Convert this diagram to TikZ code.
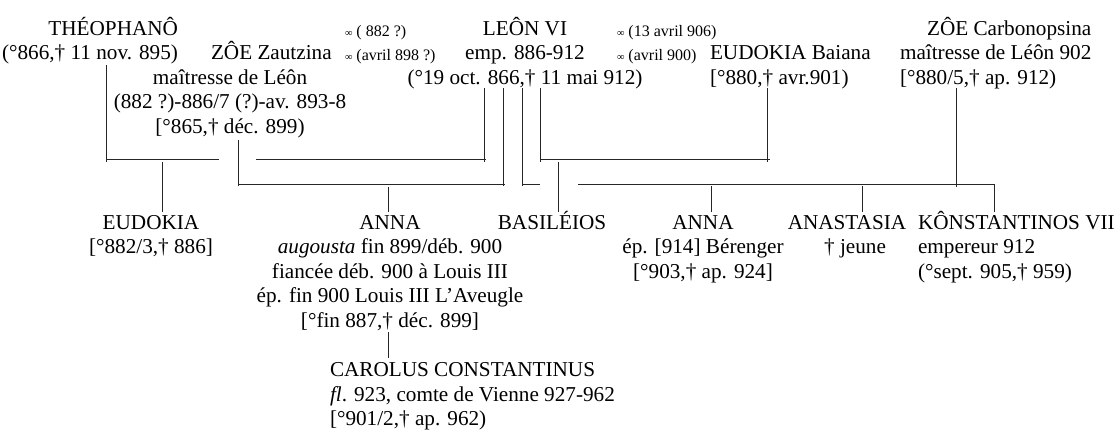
\documentclass[tikz,border=0pt]{standalone}
\usepackage{fontspec}
\setmainfont{Liberation Serif}
% one person: a block of lines, aligned on the baseline of its first line
\newcommand\gblock[2][c]{\begin{tabular}[t]{@{}#1@{}}#2\end{tabular}}
% marriage sign
\newcommand\wed{{\fontsize{10.5}{10.5}\selectfont ∞}}

\begin{document}
\begin{tikzpicture}[x=1pt, y=-1pt,
  person/.style={inner sep=0pt, outer sep=0pt, anchor=base,
                 font=\fontsize{21.2}{24.5}\selectfont},
  marr/.style={inner sep=0pt, outer sep=0pt, anchor=base west,
               font=\fontsize{16}{18}\selectfont},
  rel/.style={line width=0.9pt, draw=black!85}]
\useasboundingbox (0,0) rectangle (1120,432);

% ---------- parents ----------
\node[person, anchor=base east] (theo) at (178,35)
  {\gblock[r]{THÉOPHANÔ\\(°866,† 11 nov. 895)}};
\node[person, anchor=base west] (zautzina) at (211,59.5) {ZÔE Zautzina};
\node[person] (zautzinaInfo) at (230,84)
  {\gblock{maîtresse de Léôn\\(882 ?)-886/7 (?)-av. 893-8\\{[}°865,† déc. 899)}};
\node[marr] (m1) at (345,36) {\wed\ ( 882 ?)};
\node[marr] (m2) at (345,60.5) {\wed\ (avril 898 ?)};
\node[person] (leon) at (525,35)
  {\gblock{LEÔN VI\\emp. 886-912\\(°19 oct. 866,† 11 mai 912)}};
\node[marr] (m3) at (617,36) {\wed\ (13 avril 906)};
\node[marr] (m4) at (617,60.5) {\wed\ (avril 900)};
\node[person, anchor=base west] (baiana) at (710,59.5)
  {\gblock[l]{EUDOKIA Baiana\\{[}°880,† avr.901)}};
\node[person, anchor=base west] (carbo) at (900,35)
  {\gblock[l]{\hfill ZÔE Carbonopsina\\maîtresse de Léôn 902\\{[}°880/5,† ap. 912)}};

% ---------- children ----------
\node[person] (eudokia) at (151,229) {\gblock{EUDOKIA\\{[}°882/3,† 886]}};
\node[person] (annaA) at (390,229)
  {\gblock{ANNA\\\textit{augousta} fin 899/déb. 900\\fiancée déb. 900 à Louis III\\ép. fin 900 Louis III L’Aveugle\\{[}°fin 887,† déc. 899]}};
\node[person] (basil) at (552,229) {BASILÉIOS};
\node[person] (annaB) at (703,229) {\gblock{ANNA\\ép. [914] Bérenger\\{[}°903,† ap. 924]}};
\node[person] (anast) at (847,229) {\gblock{ANASTASIA\\\hspace*{16pt}† jeune}};
\node[person, anchor=base west] (konst) at (918,229)
  {\gblock[l]{KÔNSTANTINOS VII\\empereur 912\\(°sept. 905,† 959)}};
\node[person, anchor=base west] (carolus) at (330,376.5)
  {\gblock[l]{CAROLUS CONSTANTINUS\\\textit{fl}. 923, comte de Vienne 927-962\\{[}°901/2,† ap. 962)}};

% ---------- connection points ----------
% drops from the parents
\coordinate (theoT) at (106,65);   \coordinate (theoB) at (106,162);
\coordinate (zauT)  at (238,140);  \coordinate (zauB)  at (238,186);
\coordinate (leAT)  at (484,88);   \coordinate (leAB)  at (484,162);
\coordinate (leBT)  at (503,88);   \coordinate (leBB)  at (503,186);
\coordinate (leCT)  at (522,88);   \coordinate (leCB)  at (522,186);
\coordinate (leDT)  at (540,88);   \coordinate (leDB)  at (540,162);
\coordinate (baiT)  at (767,88);   \coordinate (baiB)  at (767,162);
\coordinate (carT)  at (956,88);   \coordinate (carB)  at (956,187);
% union bars
\coordinate (uA1) at (106,159); \coordinate (uA2) at (219,159);
\coordinate (uA3) at (256,159); \coordinate (uA4) at (486,159);
\coordinate (uB1) at (238,184); \coordinate (uB2) at (505,184);
\coordinate (uC1) at (522,184); \coordinate (uC2) at (540,184);
\coordinate (uC3) at (578,184); \coordinate (uC4) at (994,184);
\coordinate (uD1) at (540,159); \coordinate (uD2) at (770,159);
% drops to the children
\coordinate (eudT) at (162,162);  \coordinate (eudB) at (162,212);
\coordinate (anAT) at (388,187);  \coordinate (anAB) at (388,212);
\coordinate (basT) at (558,162);  \coordinate (basB) at (558,212);
\coordinate (anBT) at (711,186);  \coordinate (anBB) at (711,212);
\coordinate (anaT) at (862,186);  \coordinate (anaB) at (862,212);
\coordinate (konT) at (994,184);  \coordinate (konB) at (994,212);
\coordinate (carlT) at (388,332); \coordinate (carlB) at (388,358);

% ---------- lines ----------
\draw[rel] (theoT) -- (theoB);
\draw[rel] (zauT) -- (zauB);
\draw[rel] (leAT) -- (leAB);
\draw[rel] (leBT) -- (leBB);
\draw[rel] (leCT) -- (leCB);
\draw[rel] (leDT) -- (leDB);
\draw[rel] (baiT) -- (baiB);
\draw[rel] (carT) -- (carB);

\draw[rel] (uA1) -- (uA2);
\draw[rel] (uA3) -- (uA4);
\draw[rel] (uB1) -- (uB2);
\draw[rel] (uC1) -- (uC2);
\draw[rel] (uC3) -- (uC4);
\draw[rel] (uD1) -- (uD2);

\draw[rel] (eudT) -- (eudB);
\draw[rel] (anAT) -- (anAB);
\draw[rel] (basT) -- (basB);
\draw[rel] (anBT) -- (anBB);
\draw[rel] (anaT) -- (anaB);
\draw[rel] (konT) -- (konB);
\draw[rel] (carlT) -- (carlB);
\end{tikzpicture}
\end{document}
